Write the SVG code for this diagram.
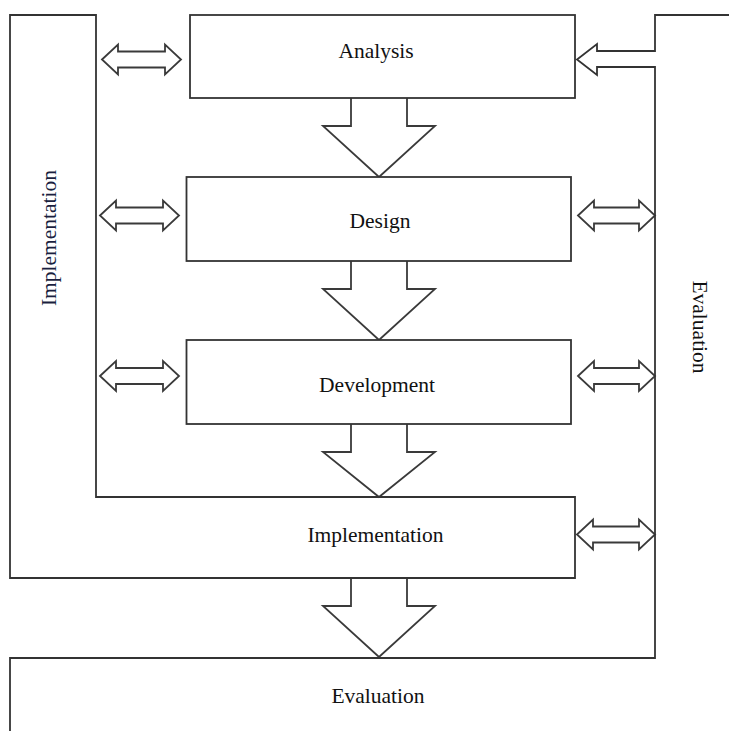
<svg xmlns="http://www.w3.org/2000/svg" width="729" height="731" viewBox="0 0 729 731">
  <style>
    .box { fill: #ffffff; stroke: #333333; stroke-width: 1.8; }
    .line { fill: none; stroke: #333333; stroke-width: 1.8; }
    .arr { fill: #ffffff; stroke: #3a3a3a; stroke-width: 1.8; stroke-linejoin: miter; }
    .lbl { font-family: "Liberation Serif", "Times New Roman", serif; font-size: 21.5px; fill: #111111; text-anchor: middle; }
    .side { fill: #1a1f3f; }
  </style>
  <rect width="729" height="731" fill="#ffffff"/>

  <!-- connectors (drawn first so box borders stay on top) -->
  <g id="connectors">
    <!-- block arrows between stages -->
    <path class="arr" d="M351,98 L351,126 L323,126 L379,177 L435,126 L407,126 L407,98"/>
    <path class="arr" d="M351,261 L351,289 L323,289 L379,340 L435,289 L407,289 L407,261"/>
    <path class="arr" d="M351,424 L351,452 L323,452 L379,497 L435,452 L407,452 L407,424"/>
    <path class="arr" d="M351,578 L351,606 L323,606 L379,657 L435,606 L407,606 L407,578"/>

    <!-- two-way arrows on the left -->
    <path class="arr" d="M102,59.5 L118,44.5 L118,51.5 L165,51.5 L165,44.5 L181,59.5 L165,74.5 L165,67.5 L118,67.5 L118,74.5 Z"/>
    <path class="arr" d="M100,215.5 L116,200.5 L116,207.5 L163,207.5 L163,200.5 L179,215.5 L163,230.5 L163,223.5 L116,223.5 L116,230.5 Z"/>
    <path class="arr" d="M100,376 L116,361 L116,368 L163,368 L163,361 L179,376 L163,391 L163,384 L116,384 L116,391 Z"/>

    <!-- two-way arrows on the right -->
    <path class="arr" d="M578,215.5 L594,200.5 L594,207.5 L639,207.5 L639,200.5 L655,215.5 L639,230.5 L639,223.5 L594,223.5 L594,230.5 Z"/>
    <path class="arr" d="M578,376 L594,361 L594,368 L639,368 L639,361 L655,376 L639,391 L639,384 L594,384 L594,391 Z"/>
    <path class="arr" d="M577,534.5 L593,519.5 L593,526.5 L639,526.5 L639,519.5 L655,534.5 L639,549.5 L639,542.5 L593,542.5 L593,549.5 Z"/>
  </g>

  <!-- frames that wrap the stages -->
  <g id="implementation-frame">
    <path class="line" d="M96,497 L96,15 L10,15 L10,578 L575,578 L575,497 Z"/>
    <text class="lbl side" transform="translate(56,238) rotate(-90)">Implementation</text>
  </g>
  <g id="evaluation-frame">
    <path class="line" d="M729,15 L655,15 L655,51 L597,51 L597,44 L577,59.5 L597,75 L597,67 L655,67 L655,658 L10,658 L10,731"/>
    <text class="lbl" transform="translate(693,327) rotate(90)">Evaluation</text>
  </g>

  <!-- stage boxes -->
  <g id="analysis">
    <rect class="box" x="190" y="15" width="385" height="83"/>
    <text class="lbl" x="376" y="58">Analysis</text>
  </g>
  <g id="design">
    <rect class="box" x="186.5" y="177" width="384.5" height="84"/>
    <text class="lbl" x="380" y="228">Design</text>
  </g>
  <g id="development">
    <rect class="box" x="186.5" y="340" width="384.5" height="84"/>
    <text class="lbl" x="377" y="392">Development</text>
  </g>
  <g id="implementation">
    <text class="lbl" x="375.5" y="542">Implementation</text>
  </g>
  <g id="evaluation">
    <text class="lbl" x="378" y="703">Evaluation</text>
  </g>
</svg>
